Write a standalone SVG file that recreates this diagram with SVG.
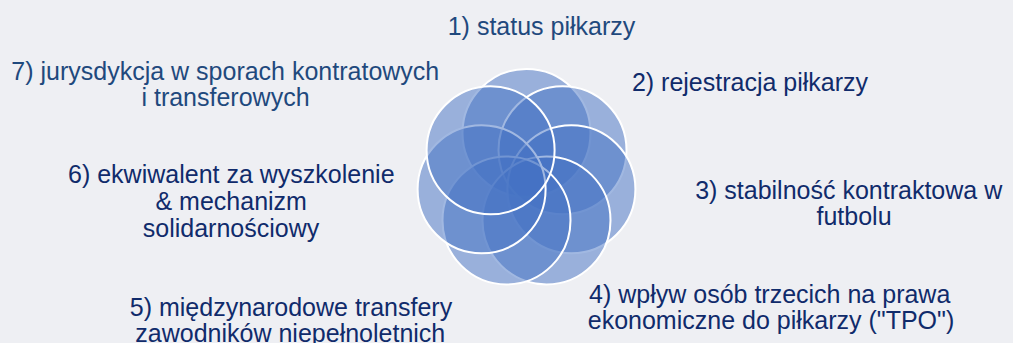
<svg xmlns="http://www.w3.org/2000/svg" width="1013" height="343" viewBox="0 0 1013 343">
  <style>
    .c { fill: #4472C4; fill-opacity: 0.5; stroke: #FFFFFF; stroke-width: 2; }
    .t { font-family: "Liberation Sans", Arial, sans-serif; font-size: 25px; text-anchor: middle; }
    .a { fill: #1F497D; }
    .b { fill: #102B6B; }
  </style>
  <rect x="0" y="0" width="1013" height="343" fill="#EEEFF3"/>
  <g id="node1">
    <circle class="c" cx="526.5" cy="133" r="64"/>
    <text class="t a" x="541.5" y="35">1) status piłkarzy</text>
  </g>
  <g id="node2">
    <circle class="c" cx="562.5" cy="150.3" r="64"/>
    <text class="t b" x="750" y="91">2) rejestracja piłkarzy</text>
  </g>
  <g id="node3">
    <circle class="c" cx="571.4" cy="189.2" r="64"/>
    <text class="t b" x="848.7" y="198.5">3) stabilność kontraktowa w</text>
    <text class="t b" x="854" y="224.5">futbolu</text>
  </g>
  <g id="node4">
    <circle class="c" cx="546.5" cy="220.4" r="64"/>
    <text class="t b" x="769.7" y="302.5">4) wpływ osób trzecich na prawa</text>
    <text class="t b" x="771" y="328.5">ekonomiczne do piłkarzy ("TPO")</text>
  </g>
  <g id="node5">
    <circle class="c" cx="506.5" cy="220.4" r="64"/>
    <text class="t b" x="291" y="315.5">5) międzynarodowe transfery</text>
    <text class="t b" x="290.3" y="341.5">zawodników niepełnoletnich</text>
  </g>
  <g id="node6">
    <circle class="c" cx="481.6" cy="189.2" r="64"/>
    <text class="t b" x="231.3" y="183.3">6) ekwiwalent za wyszkolenie</text>
    <text class="t b" x="231.2" y="210">&amp; mechanizm</text>
    <text class="t b" x="231" y="236.7">solidarnościowy</text>
  </g>
  <g id="node7">
    <circle class="c" cx="490.6" cy="150.3" r="64"/>
    <text class="t a" x="225.3" y="80.3">7) jurysdykcja w sporach kontratowych</text>
    <text class="t a" x="225.5" y="106">i transferowych</text>
  </g>
</svg>
